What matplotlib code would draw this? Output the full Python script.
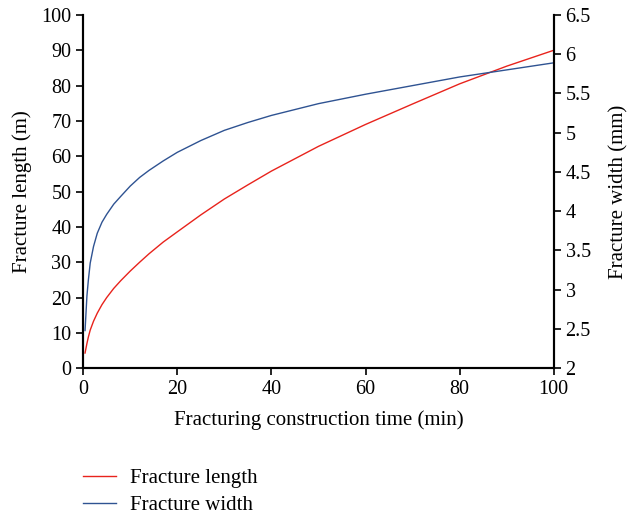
import matplotlib.pyplot as plt

# data
time_min = [0.4, 0.8, 1.1, 1.5, 2.2, 3, 4, 5, 6.5, 8, 10, 12, 14, 17, 20, 25, 30, 35, 40,
            50, 60, 70, 80, 90, 100]
length_m = [4.3, 7.0, 8.8, 10.8, 13.3, 15.6, 18.0, 20.0, 22.6, 24.8, 27.5, 30.0, 32.4, 35.7,
            38.6, 43.4, 47.9, 51.9, 55.8, 62.8, 69.0, 74.8, 80.5, 85.5, 90.0]
width_mm = [2.48, 2.92, 3.12, 3.34, 3.55, 3.72, 3.86, 3.96, 4.09, 4.19, 4.32, 4.43, 4.52, 4.64,
            4.75, 4.90, 5.03, 5.13, 5.22, 5.37, 5.49, 5.60, 5.71, 5.80, 5.89]

plt.rcParams['font.family'] = ['Liberation Serif', 'DejaVu Serif']
plt.rcParams['font.size'] = 15

fig = plt.figure(figsize=(6.3, 5.15), dpi=100)
ax = fig.add_axes([0.132, 0.285, 0.747, 0.686])
ax2 = ax.twinx()

l1, = ax.plot(time_min, length_m, color='#e8231c', lw=1.0, label='Fracture length')
l2, = ax2.plot(time_min, width_mm, color='#2f5392', lw=1.0, label='Fracture width')

ax.set_xlim(0, 100)
ax.set_ylim(0, 100)
ax2.set_ylim(2, 6.5)
ax.set_xticks(range(0, 101, 20))
ax.set_yticks(range(0, 101, 10))
ax2.set_yticks([2, 2.5, 3, 3.5, 4, 4.5, 5, 5.5, 6, 6.5])
ax2.set_yticklabels(['2', '2.5', '3', '3.5', '4', '4.5', '5', '5.5', '6', '6.5'])

ax.set_xlabel('Fracturing construction time (min)', labelpad=8)
ax.set_ylabel('Fracture length (m)', labelpad=7)
ax2.set_ylabel('Fracture width (mm)', labelpad=13)

for a in (ax, ax2):
    a.spines['top'].set_visible(False)
    for s in a.spines.values():
        s.set_linewidth(1.5)
    a.tick_params(direction='out', length=5, width=1.2, labelsize=14.5)

fig.legend(handles=[l1, l2], loc='upper left', bbox_to_anchor=(0.132, 0.090),
           frameon=False, borderaxespad=0, borderpad=0, handlelength=1.6,
           handletextpad=0.65, labelspacing=0.35)

fig.savefig('out.png', dpi=100)
